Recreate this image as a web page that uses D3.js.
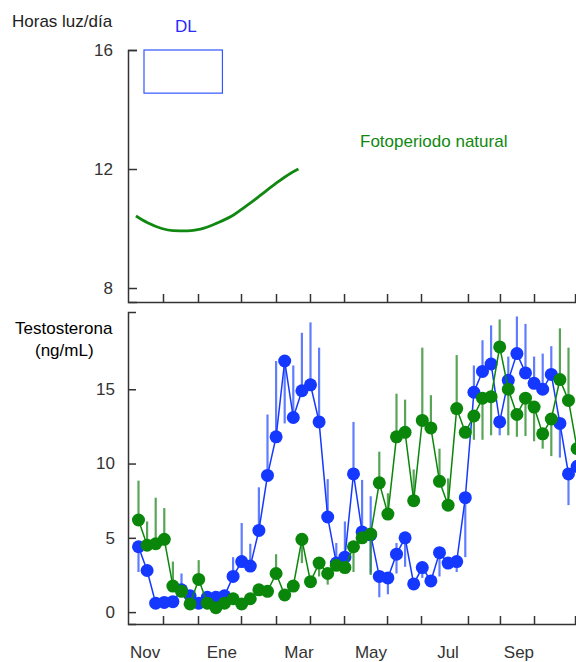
<!DOCTYPE html>
<html>
<head>
<meta charset="utf-8">
<script src="https://cdn.jsdelivr.net/npm/d3@7"></script>
<style>
  body { margin: 0; background: #fff; }
  svg { display: block; font-family: "Liberation Sans", Arial, sans-serif; }
</style>
</head>
<body>
<svg id="chart" width="576" height="662"></svg>
<script>
// weekly samples, week 0 = early Nov
var blueVals = [4.4, 2.8, 0.6, 0.65, 0.7, 1.5, 1.1, 0.6, 1.0, 1.0, 1.1, 2.4, 3.4, 3.1, 5.5, 9.2,
  11.8, 16.9, 13.1, 14.9, 15.3, 12.8, 6.4, 3.3, 3.7, 9.3, 5.4, 5.2, 2.4, 2.3, 3.9, 5.0,
  1.9, 3.0, 2.1, 4.0, 3.3, 3.4, 7.7, 14.8, 16.2, 16.7, 12.8, 15.6, 17.4, 16.1, 15.4, 15.0,
  16.0, 12.7, 9.3, 9.8];
var blueHi = {5: 2.6, 11: 3.7, 12: 6.0, 13: 4.6, 14: 8.4, 15: 13.3, 16: 16.9, 18: 16.6, 19: 18.8,
  20: 19.5, 21: 17.8, 22: 8.95, 23: 4.65, 24: 6.1, 25: 12.8, 26: 8.9, 27: 7.8, 30: 4.65,
  39: 16.6, 40: 18.3, 41: 19.3, 43: 17.2, 44: 19.9, 45: 19.4, 46: 17.2, 47: 17.4, 48: 17.9};
var blueLo = {0: 2.7, 17: 12.7, 27: 2.6, 28: 1.0, 29: 1.2, 30: 2.6, 31: 3.05, 33: 2.3, 35: 2.4,
  37: 2.7, 38: 3.7, 42: 11.9, 49: 10.4, 50: 7.2};

var greenVals = [6.2, 4.5, 4.6, 4.9, 1.75, 1.4, 0.55, 2.2, 0.6, 0.3, 0.6, 0.9, 0.55, 0.9, 1.5, 1.4,
  2.6, 1.15, 1.75, 4.9, 2.05, 3.3, 2.6, 3.15, 3.0, 4.4, 5.0, 5.25, 8.7, 6.6, 11.8, 12.1,
  7.5, 12.9, 12.4, 8.8, 7.2, 13.7, 12.1, 13.2, 14.4, 14.5, 17.85, 15.0, 13.3, 14.4, 13.8, 12.0,
  13.0, 15.65, 14.25, 11.0];
var greenHi = {0: 8.85, 1: 6.1, 2: 7.7, 3: 7.0, 4: 3.4, 7: 3.5, 16: 3.9, 28: 10.8, 29: 8.0, 30: 14.7,
  31: 14.3, 32: 9.6, 33: 17.8, 34: 14.6, 35: 11.0, 36: 9.0, 37: 17.3, 42: 19.7, 49: 19.1, 50: 17.8};
var greenLo = {19: 3.3, 21: 2.4, 22: 1.85, 25: 2.7, 27: 2.5, 39: 11.6, 40: 11.6, 41: 11.9, 43: 11.9,
  44: 11.8, 45: 11.85, 46: 11.5, 47: 11.0, 48: 10.5};

// natural photoperiod (weeks, hours)
var photoWeek = [-0.3, 1.0, 2.7, 4.0, 5.7, 7.2, 9.1, 10.8, 12.5, 14.2, 15.9, 17.7, 18.6];
var photoHours = [10.42, 10.2, 10.0, 9.93, 9.92, 9.98, 10.18, 10.41, 10.75, 11.12, 11.5, 11.86, 12.0];

// long-day box
var dlWeeks = [0.64, 9.76];
var dlHours = [14.55, 16];

var tickWeeks = [2.85, 6.92, 11.92, 15.99, 19.94, 23.9, 28.9, 32.85, 38.31, 42.03, 45.99, 50.76];
var monthNames = ['Nov', 'Ene', 'Mar', 'May', 'Jul', 'Sep'];
var monthWeeks = [0.76, 9.7, 18.66, 27.03, 35.99, 44.24];

var hourTicks = [8, 12, 16];
var testoTicks = [0, 5, 10, 15];

var svg = d3.select('#chart');
var axisColor = '#333';
var blue = '#1438ff', green = '#0a870a';
var fs = '17px';

var x = d3.scaleLinear().domain([-1.22, 52]).range([128, 585.7]);
var yTop = d3.scaleLinear().domain([7.53, 16]).range([302, 50]);
var yBot = d3.scaleLinear().domain([-0.8, 20.2]).range([624, 312]);

function styleAxis(g) {
  g.selectAll('path, line').attr('stroke', axisColor).attr('stroke-width', 1.5);
  g.selectAll('text').attr('fill', '#333').style('font-size', fs)
    .style('font-family', '"Liberation Sans", Arial, sans-serif');
}

// ---- top panel ----
svg.append('g')
  .attr('transform', 'translate(128,0)')
  .call(d3.axisLeft(yTop).tickValues(hourTicks).tickSizeInner(-9).tickSizeOuter(-9).tickPadding(15))
  .call(styleAxis);

svg.append('g')
  .attr('transform', 'translate(0,302)')
  .call(d3.axisBottom(x).tickValues(tickWeeks).tickFormat('').tickSizeInner(-8).tickSizeOuter(0))
  .call(styleAxis);

svg.append('rect')
  .attr('x', x(dlWeeks[0])).attr('y', yTop(dlHours[1]))
  .attr('width', x(dlWeeks[1]) - x(dlWeeks[0]))
  .attr('height', yTop(dlHours[0]) - yTop(dlHours[1]))
  .attr('fill', 'none').attr('stroke', '#3355ff').attr('stroke-width', 1.2);

svg.append('path')
  .datum(d3.zip(photoWeek, photoHours))
  .attr('d', d3.line().x(function(d) { return x(d[0]); }).y(function(d) { return yTop(d[1]); })
    .curve(d3.curveMonotoneX))
  .attr('fill', 'none').attr('stroke', '#118811').attr('stroke-width', 2.8);

svg.append('text').attr('x', 12).attr('y', 27).text('Horas luz/día')
  .attr('fill', '#222').style('font-size', fs);
svg.append('text').attr('x', 175).attr('y', 32).text('DL')
  .attr('fill', '#2a2aff').style('font-size', fs);
svg.append('text').attr('x', 360).attr('y', 147).text('Fotoperiodo natural')
  .attr('fill', '#118811').style('font-size', fs);

// ---- bottom panel ----
svg.append('g')
  .attr('transform', 'translate(128,0)')
  .call(d3.axisLeft(yBot).tickValues(testoTicks).tickSizeInner(-8).tickSizeOuter(-8).tickPadding(13))
  .call(styleAxis);

svg.append('g')
  .attr('transform', 'translate(0,624)')
  .call(d3.axisBottom(x).tickValues(tickWeeks).tickFormat('').tickSizeInner(-8).tickSizeOuter(0))
  .call(styleAxis);

svg.append('g').selectAll('text')
  .data(monthNames)
  .enter()
  .append('text')
  .attr('x', function(d, i) { return x(monthWeeks[i]); })
  .attr('y', 658)
  .attr('text-anchor', 'middle')
  .attr('fill', '#333')
  .style('font-size', fs)
  .text(function(d) { return d; });

svg.append('text').attr('x', 15).attr('y', 334).text('Testosterona')
  .attr('fill', '#000').style('font-size', fs);
svg.append('text').attr('x', 35).attr('y', 356).text('(ng/mL)')
  .attr('fill', '#000').style('font-size', fs);

function drawSeries(vals, hi, lo, color, barColor) {
  var g = svg.append('g');
  var bars = [];
  vals.forEach(function(v, i) {
    var top = hi[i] !== undefined ? hi[i] : v;
    var bot = lo[i] !== undefined ? lo[i] : v;
    if (top !== bot) bars.push({ i: i, a: top, b: bot });
  });
  g.selectAll('line.err')
    .data(bars)
    .enter()
    .append('line')
    .attr('class', 'err')
    .attr('x1', function(d) { return x(d.i); })
    .attr('x2', function(d) { return x(d.i); })
    .attr('y1', function(d) { return yBot(d.a); })
    .attr('y2', function(d) { return yBot(d.b); })
    .attr('stroke', barColor).attr('stroke-width', 2.2).attr('stroke-opacity', 0.8);

  g.append('path')
    .datum(vals)
    .attr('d', d3.line().x(function(d, i) { return x(i); }).y(function(d) { return yBot(d); }))
    .attr('fill', 'none').attr('stroke', color).attr('stroke-width', 1.5);

  g.selectAll('circle')
    .data(vals)
    .enter()
    .append('circle')
    .attr('cx', function(d, i) { return x(i); })
    .attr('cy', function(d) { return yBot(d); })
    .attr('r', 6.5)
    .attr('fill', color);
}

drawSeries(blueVals, blueHi, blueLo, blue, '#3a5cff');
drawSeries(greenVals, greenHi, greenLo, green, '#2e8f2e');
</script>
</body>
</html>
